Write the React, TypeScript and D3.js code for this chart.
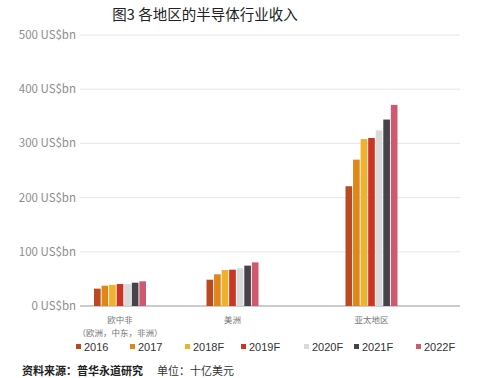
import React from "react";
import * as d3 from "d3";

const categories = ["欧中非", "美洲", "亚太地区"];
const categorySub = ["（欧洲，中东，非洲）", "", ""];
const years = ["2016", "2017", "2018F", "2019F", "2020F", "2021F", "2022F"];
const emea = [32, 37.5, 39, 40.5, 40.5, 43, 45.5];
const americas = [48.5, 58.5, 66.5, 67, 69.5, 74.5, 80.5];
const apac = [221, 270, 308, 310, 324, 344, 371];
const colors = ["#bb4a22", "#df871b", "#f0b22d", "#cc3426", "#dadada", "#47434a", "#cf5a70"];
const yTicks = [0, 100, 200, 300, 400, 500];
const title = "图3 各地区的半导体行业收入";
const source = "资料来源：普华永道研究";
const unit = "单位：十亿美元";

const series = [emea, americas, apac];

export default function App() {
  const W = 479, H = 378;
  const font = "'Noto Sans CJK SC', 'Noto Sans', sans-serif";
  const y = d3.scaleLinear().domain([0, 500]).range([306, 35]);
  const xc = d3.scaleLinear().domain([0, 1, 2]).range([120, 232.5, 371.5]);
  const inner = d3.scaleBand<string>().domain(years).range([-26, 26]).paddingInner(0.12);
  const plotL = 80, plotR = 460;
  const legendX = [84, 138, 193, 249, 312, 362, 424];

  return (
    <svg width={W} height={H} style={{ position: "absolute", left: 0, top: 0, background: "#fff" }} fontFamily={font}>
      <rect width={W} height={H} fill="#fff" />
      <text x={205} y={20} fontSize={14.5} textAnchor="middle" fill="#222">{title}</text>
      {yTicks.map((t) => (
        <g key={t}>
          <line x1={plotL} x2={plotR} y1={y(t)} y2={y(t)} stroke={t === 0 ? "#999" : "#e6e6e6"} strokeWidth={1} />
          <text x={76} y={y(t)} dy="0.35em" fontSize={11.5} textAnchor="end" fill="#8d8d8d">{`${t} US$bn`}</text>
        </g>
      ))}
      {series.map((vals, ci) => (
        <g key={ci} transform={`translate(${xc(ci)},0)`}>
          {vals.map((v, i) => (
            <rect key={i} x={inner(years[i])} y={y(v)} width={inner.bandwidth()} height={y(0) - y(v)} fill={colors[i]} />
          ))}
        </g>
      ))}
      {categories.map((c, ci) => (
        <g key={c}>
          <text x={xc(ci)} y={323} fontSize={8.5} textAnchor="middle" fill="#777">{c}</text>
          {categorySub[ci] && (
            <text x={xc(ci)} y={335.8} fontSize={8.5} textAnchor="middle" fill="#777">{categorySub[ci]}</text>
          )}
        </g>
      ))}
      {years.map((yr, i) => {
        const lx = legendX[i];
        return (
          <g key={yr}>
            <rect x={lx - 8} y={344} width={5} height={5} fill={colors[i]} />
            <text x={lx} y={351} fontSize={11} fill="#333" fontFamily="'Liberation Sans', Arial, sans-serif">{yr}</text>
          </g>
        );
      })}
      <text x={22} y={375} fontSize={11} fontWeight="bold" fill="#222">{source}</text>
      <text x={157} y={375} fontSize={11} fill="#333">{unit}</text>
    </svg>
  );
}
